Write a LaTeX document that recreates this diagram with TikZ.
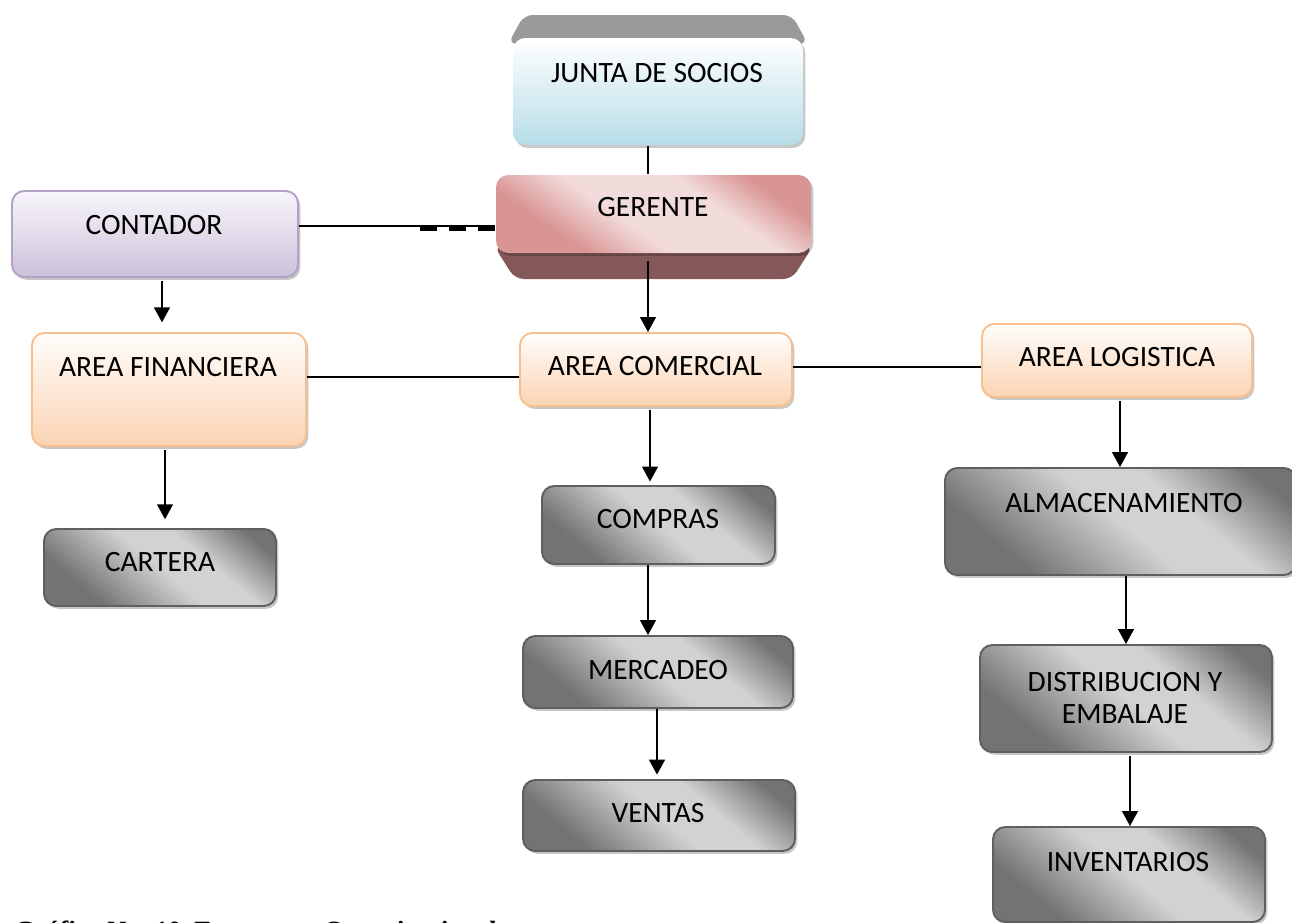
\documentclass[tikz,border=0pt]{standalone}
\usepackage{fontspec}
\setmainfont{Carlito}
\newfontfamily\capfont{Liberation Serif}
\usetikzlibrary{shadows,fit,arrows.meta}
\definecolor{blueB}{HTML}{B7DDE8}
\definecolor{purT}{HTML}{F8F6FB}
\definecolor{purB}{HTML}{CCC1DA}
\definecolor{purD}{HTML}{B3A2C7}
\definecolor{orT}{HTML}{FFFDFB}
\definecolor{orB}{HTML}{FBD4B4}
\definecolor{orD}{HTML}{F9C08F}
\definecolor{grD}{HTML}{737373}
\definecolor{grL}{HTML}{D2D2D2}
\definecolor{grB}{HTML}{5F5F5F}
\definecolor{pkD}{HTML}{D99594}
\definecolor{pkL}{HTML}{F2DCDB}
\definecolor{pkS}{HTML}{845858}
\definecolor{bevel}{HTML}{9A9A9A}
\pgfdeclarehorizontalshading{grshade}{100bp}{color(0bp)=(grD); color(28bp)=(grD); color(50bp)=(grL); color(62bp)=(grL); color(78bp)=(grD); color(100bp)=(grD)}
\pgfdeclarehorizontalshading{pkshade}{100bp}{color(0bp)=(pkD); color(30bp)=(pkD); color(44bp)=(pkL); color(62bp)=(pkL); color(74bp)=(pkD); color(100bp)=(pkD)}
\begin{document}
\begin{tikzpicture}[x=0.02cm,y=-0.02cm,
  box/.style={rounded corners=7pt, inner sep=0pt, line width=1.1pt,
    drop shadow={shadow xshift=1.3pt, shadow yshift=-1.6pt, fill=black, opacity=0.22}},
  bluebox/.style={box, draw=none, top color=white, bottom color=blueB},
  pinkbox/.style={box, draw=none, shading=pkshade, shading angle=55},
  purbox/.style={box, draw=purD, top color=purT, bottom color=purB},
  orbox/.style={box, draw=orD, top color=orT, bottom color=orB},
  graybox/.style={box, draw=grB, shading=grshade, shading angle=50},
  txt/.style={font=\fontsize{16.8}{18.7}\selectfont, inner sep=0pt, text=black, align=center},
  conn/.style={line width=1pt, black},
  arr/.style={conn, -{Triangle[width=9pt,length=8.5pt]}},
  captxt/.style={font=\capfont\bfseries\fontsize{15}{18}\selectfont, inner sep=0pt, anchor=base west}
]
\useasboundingbox (0,0) rectangle (1292,923);

% 3D bevels
\fill[bevel, rounded corners=5pt] (524,15) -- (792,15) -- (808,44) -- (508,44) -- cycle;
\fill[pkS, rounded corners=5pt] (494,246) -- (813,246) -- (792,279) -- (515,279) -- cycle;

% boxes
\node[bluebox, fit={(513,38) (803,145)}] (junta) {};
\node[pinkbox, fit={(496,175) (811,253)}] (gerente) {};
\node[purbox, fit={(12,191) (298,277)}] (contador) {};
\node[orbox, fit={(32,333) (306,446)}] (af) {};
\node[orbox, fit={(520,333) (792,406)}] (ac) {};
\node[orbox, fit={(982,324) (1252,397)}] (al) {};
\node[graybox, fit={(44,529) (276,606)}] (cartera) {};
\node[graybox, fit={(542,486) (775,564)}] (compras) {};
\node[graybox, fit={(523,636) (793,708)}] (mercadeo) {};
\node[graybox, fit={(523,780) (795,851)}] (ventas) {};
\node[graybox, fit={(945,468) (1296,575)}] (alm) {};
\node[graybox, fit={(980,645) (1272,752)}] (dist) {};
\node[graybox, fit={(993,827) (1265,922)}] (inv) {};

% labels
\node[txt] (juntat) at (657,73) {JUNTA DE SOCIOS};
\node[txt] (gerentet) at (653,207) {GERENTE};
\node[txt] (contadort) at (154,225) {CONTADOR};
\node[txt] (aft) at (168,367) {AREA FINANCIERA};
\node[txt] (act) at (655,366) {AREA COMERCIAL};
\node[txt] (alt) at (1117,357) {AREA LOGISTICA};
\node[txt] (carterat) at (160,562) {CARTERA};
\node[txt] (comprast) at (658,519) {COMPRAS};
\node[txt] (mercadeot) at (658,670) {MERCADEO};
\node[txt] (ventast) at (658,813) {VENTAS};
\node[txt] (almt) at (1124,503) {ALMACENAMIENTO};
\node[txt] (distt) at (1125,698) {DISTRIBUCION Y\\EMBALAJE};
\node[txt] (invt) at (1128,862) {INVENTARIOS};

% reference coordinates for connector positions
\coordinate (x648) at (648,0);
\coordinate (x650) at (650,0);
\coordinate (x657) at (657,0);
\coordinate (x162) at (162,0);
\coordinate (x165) at (165,0);
\coordinate (x1120) at (1120,0);
\coordinate (x1126) at (1126,0);
\coordinate (x1130) at (1130,0);
\coordinate (y226) at (0,226);
\coordinate (y229) at (0,229);
\coordinate (y377) at (0,377);
\coordinate (y367) at (0,367);

% connectors
\draw[conn] (x648 |- junta.south) -- (x648 |- gerente.north);
\draw[conn] (contador.east |- y226) -- (gerente.west |- y226);
\draw[line width=2pt, dash pattern=on 9.6pt off 7pt] ([xshift=-1.5cm]gerente.west |- y229) -- (gerente.west |- y229);
\draw[arr, shorten <=4pt] (x648 |- gerente.south) -- (x648 |- ac.north);
\draw[arr, shorten <=2pt, shorten >=5.5pt] (x162 |- contador.south) -- (x162 |- af.north);
\draw[conn] (af.east |- y377) -- (ac.west |- y377);
\draw[conn] (ac.east |- y367) -- (al.west |- y367);
\draw[arr, shorten <=2pt, shorten >=5pt] (x165 |- af.south) -- (x165 |- cartera.north);
\draw[arr, shorten <=2pt, shorten >=2pt] (x650 |- ac.south) -- (x650 |- compras.north);
\draw[arr] (x648 |- compras.south) -- (x648 |- mercadeo.north);
\draw[arr, shorten >=2.5pt] (x657 |- mercadeo.south) -- (x657 |- ventas.north);
\draw[arr, shorten <=2pt] (x1120 |- al.south) -- (x1120 |- alm.north);
\draw[arr] (x1126 |- alm.south) -- (x1126 |- dist.north);
\draw[arr, shorten <=2pt] (x1130 |- dist.south) -- (x1130 |- inv.north);

% caption (cut off by the page edge, as in the reference)
\node[captxt] (caption) at (14,939) {Gráfico No. 10\ \ Estructura Organizacional};
\end{tikzpicture}
\end{document}
